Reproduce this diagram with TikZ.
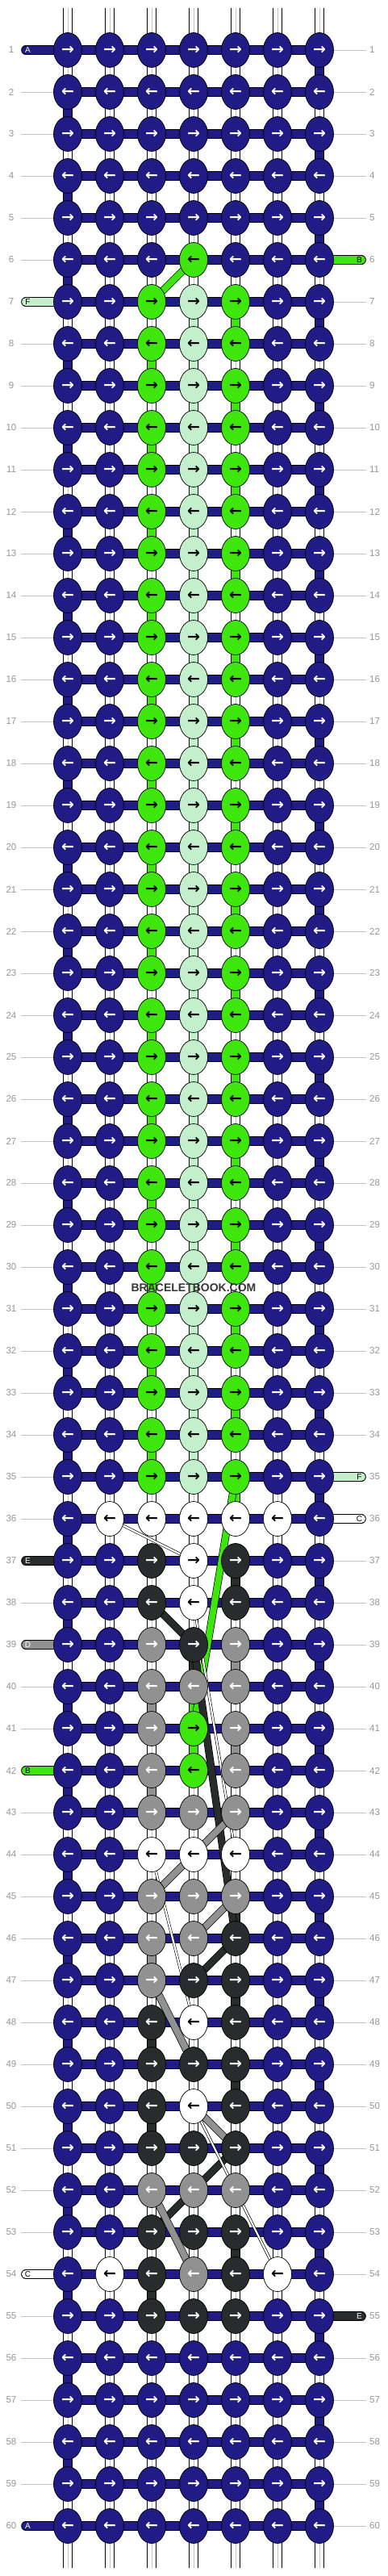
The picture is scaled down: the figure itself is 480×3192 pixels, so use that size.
\documentclass[tikz,border=0pt]{standalone}
\usepackage{fontspec}
\setmainfont{Liberation Sans}
\newfontfamily\arrowfont{DejaVu Sans}
\usetikzlibrary{shapes.geometric}

\pgfdeclarelayer{background}
\pgfsetlayers{background,main}

\definecolor{cB}{RGB}{33,27,134}
\definecolor{cG}{RGB}{62,230,14}
\definecolor{cL}{RGB}{195,239,204}
\definecolor{cW}{RGB}{255,255,255}
\definecolor{cD}{RGB}{41,44,44}
\definecolor{cR}{RGB}{145,145,145}
\definecolor{numgray}{RGB}{150,150,150}
\definecolor{rulegray}{RGB}{195,195,195}
\definecolor{markgray}{RGB}{55,55,55}

% one row of knots, colours given left to right
\newcommand\knotrow[2]{%
  \foreach \k [count=\c] in {#2} {
    \node[knot\k] (k-#1-\c) at ({32+52*\c},{10+52*#1}) {\ifodd#1 →\else ←\fi};
  }}

\begin{document}
\begin{tikzpicture}[x=1pt,y=-1pt,
knot/.style={ellipse,draw,line width=0.7pt,minimum width=35pt,minimum height=43pt,inner sep=0pt,
  font=\arrowfont\bfseries\fontsize{19}{19}\selectfont},
knotB/.style={knot,fill=cB,text=white},
knotG/.style={knot,fill=cG,text=black},
knotL/.style={knot,fill=cL,text=black},
knotW/.style={knot,fill=cW,text=black},
knotD/.style={knot,fill=cD,text=white},
knotR/.style={knot,fill=cR,text=white},
thread/.style={line width=0.8pt,double=#1,double distance=10pt},
warp/.style={draw=rulegray,line width=0.5pt,
  preaction={draw=black,line width=11.6pt},
  preaction={draw=white,line width=10pt}},
strand/.style={line width=0.7pt,double=#1,double distance=8pt},
fine/.style={line width=0.6pt,double=white,double distance=2.2pt},
tabletter/.style={inner sep=0pt,font=\fontsize{10}{10}\selectfont},
rownum/.style={inner sep=0pt,text=numgray,font=\fontsize{11.5}{11.5}\selectfont},
rowrule/.style={draw=rulegray,line width=0.8pt}]
\useasboundingbox (0,0) rectangle (480,3192);

% knots
\foreach \r in {1,...,5} {\knotrow{\r}{B,B,B,B,B,B,B}}
\knotrow{6}{B,B,B,G,B,B,B}
\foreach \r in {7,...,35} {\knotrow{\r}{B,B,G,L,G,B,B}}
\knotrow{36}{B,W,W,W,W,W,B}
\foreach \r in {37,38,48,50} {\knotrow{\r}{B,B,D,W,D,B,B}}
\knotrow{39}{B,B,R,D,R,B,B}
\foreach \r in {40,43,45,52} {\knotrow{\r}{B,B,R,R,R,B,B}}
\foreach \r in {41,42} {\knotrow{\r}{B,B,R,G,R,B,B}}
\knotrow{44}{B,B,W,W,W,B,B}
\knotrow{46}{B,B,R,R,D,B,B}
\knotrow{47}{B,B,R,D,D,B,B}
\foreach \r in {49,51,53,55} {\knotrow{\r}{B,B,D,D,D,B,B}}
\knotrow{54}{B,W,D,R,D,W,B}
\foreach \r in {56,...,60} {\knotrow{\r}{B,B,B,B,B,B,B}}

\begin{pgfonlayer}{background}
\fill[white] (0,0) rectangle (480,3192);
% loose warp ends
\foreach \c in {1,...,7} {
  \coordinate (top-\c) at ({32+52*\c},10);
  \coordinate (end-\c) at ({32+52*\c},3182);
  \draw[warp,line cap=round] (top-\c) -- (k-1-\c.center);
  \draw[warp,line cap=round] (end-\c) -- (k-60-\c.center);
}
% warps between rows
\foreach \r [evaluate=\r as \n using int(\r+1)] in {1,...,59}
  \foreach \c in {1,...,7} {
    \ifnum\numexpr100*\r+\c\relax=3605 \else
      \draw[warp] (k-\r-\c.center) -- (k-\n-\c.center);
    \fi
  }
% base thread turning at the edges
\foreach \r [evaluate=\r as \n using int(\r+1)] in {2,4,...,58}
  \draw[thread=cB] (k-\r-1.center) -- (k-\n-1.center);
\foreach \r [evaluate=\r as \n using int(\r+1)] in {1,3,...,59}
  \draw[thread=cB] (k-\r-7.center) -- (k-\n-7.center);
% letter band
\foreach \r [evaluate=\r as \n using int(\r+1)] in {7,...,34}
  \draw[thread=cL] (k-\r-4.center) -- (k-\n-4.center);
\foreach \r [evaluate=\r as \n using int(\r+1)] in {7,9,...,33}
  \draw[thread=cG] (k-\r-5.center) -- (k-\n-5.center);
\foreach \r [evaluate=\r as \n using int(\r+1)] in {8,10,...,34}
  \draw[thread=cG] (k-\r-3.center) -- (k-\n-3.center);
\foreach \r/\c/\col [evaluate=\r as \n using int(\r+1)] in {35/5/cG,37/5/cD,39/4/cD,39/5/cR,
    40/3/cR,40/4/cG,41/4/cG,41/5/cR,42/3/cR,45/5/cD,46/3/cR,47/5/cD,48/3/cD,49/5/cD,
    50/3/cD,53/5/cD,54/3/cD}
  \draw[thread=\col] (k-\r-\c.center) -- (k-\n-\c.center);
% rows
\foreach \r in {1,...,60} {
  \draw[thread=cB] (k-\r-1.center) -- (k-\r-7.center);
  \node[rownum] (nl-\r) at (14,{10+52*\r}) {\r};
  \node[rownum,anchor=west] (nr-\r) at (458,{10+52*\r}) {\r};
  \draw[rowrule] (k-\r-1.west) -- ++(-40,0);
  \draw[rowrule] (k-\r-7.east) -- ++(40,0);
}
% loose thread ends
\foreach \r/\col/\txt/\tc in {1/cB/A/white,7/cL/F/black,37/cD/E/white,39/cR/D/white,
    42/cG/B/black,54/cW/C/black,60/cB/A/white} {
  \coordinate (tl-\r) at (32,{10+52*\r});
  \draw[thread=\col,line cap=round] (tl-\r) -- (k-\r-1.center);
  \node[tabletter,text=\tc] (tn-\r) at (34.5,{10+52*\r}) {\txt};
}
\foreach \r/\col/\txt/\tc in {6/cG/B/black,35/cL/F/black,36/cW/C/black,55/cD/E/white} {
  \coordinate (tr-\r) at (448,{10+52*\r});
  \draw[thread=\col,line cap=round] (tr-\r) -- (k-\r-7.center);
  \node[tabletter,text=\tc] (tm-\r) at (445.5,{10+52*\r}) {\txt};
}
% threads carried behind
\draw[strand=cG] (k-6-4.center) -- (k-7-3.center);
\draw[strand=cG] (k-35-5.center) -- (k-41-4.center);
\draw[strand=cD] (k-38-3.center) -- (k-39-4.center);
\draw[strand=cD] (k-39-4.center) -- (k-46-5.center);
\draw[strand=cD] (k-46-5.center) -- (k-47-4.center);
\draw[strand=cD] (k-51-5.center) -- (k-53-3.center);
\draw[strand=cR] (k-43-5.center) -- (k-45-3.center);
\draw[strand=cR] (k-45-5.center) -- (k-46-4.center);
\draw[strand=cR] (k-47-3.center) -- (k-49-4.center);
\draw[strand=cR] (k-50-4.center) -- (k-51-5.center);
\draw[strand=cR] (k-52-3.center) -- (k-54-4.center);
\draw[fine] (k-36-2.center) -- (k-37-4.center);
\draw[fine] (k-38-4.center) -- (k-44-5.center);
\draw[fine] (k-44-3.center) -- (k-48-4.center);
\draw[fine] (k-50-4.center) -- (k-54-6.center);
\end{pgfonlayer}

\node[font=\bfseries\fontsize{14}{14}\selectfont,text=markgray] (mark) at (240,1596) {BRACELETBOOK.COM};
\end{tikzpicture}
\end{document}
